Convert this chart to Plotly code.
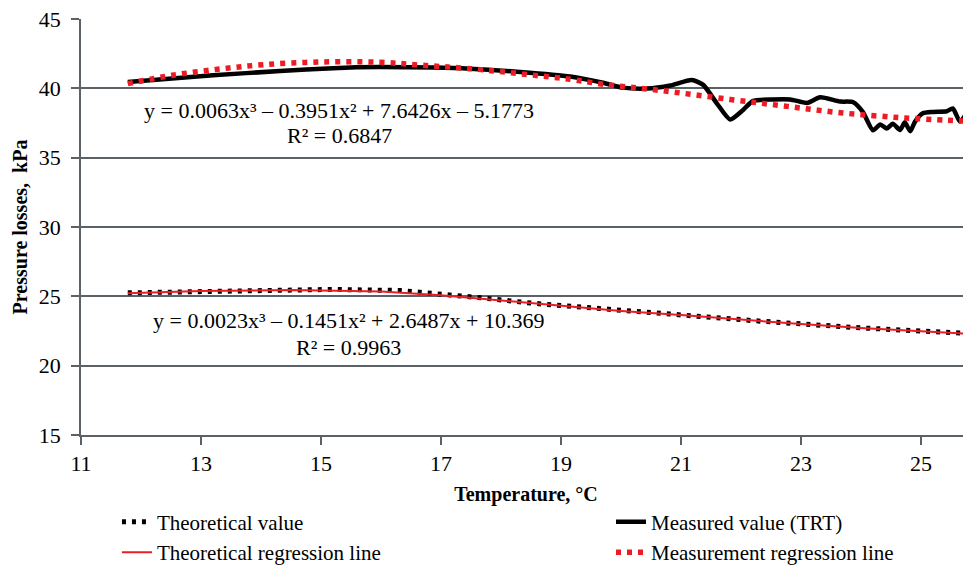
import plotly.graph_objects as go

# Measured value (TRT)
meas_x = [11.78, 13.20, 14.32, 15.20, 15.98, 16.87, 17.48, 18.32, 19.15, 19.70, 20.03, 20.43,
          20.82, 21.18, 21.37, 21.60, 21.82, 22.03, 22.20, 22.53, 22.82, 23.10, 23.32, 23.65,
          23.87, 24.03, 24.20, 24.32, 24.43, 24.53, 24.65, 24.73, 24.82, 24.90, 25.03, 25.20,
          25.43, 25.53, 25.65, 25.77]
meas_y = [40.45, 40.94, 41.25, 41.45, 41.53, 41.50, 41.42, 41.18, 40.85, 40.40, 40.05, 39.98,
          40.20, 40.60, 40.25, 38.90, 37.75, 38.42, 39.10, 39.20, 39.20, 38.95, 39.35, 39.05,
          39.00, 38.30, 36.97, 37.40, 37.10, 37.45, 37.00, 37.55, 36.90, 37.60, 38.20, 38.30,
          38.35, 38.55, 37.60, 38.30]

# Measurement regression line
mreg_x = [11.78, 12.52, 13.27, 14.03, 14.98, 15.98, 16.70, 17.48, 18.43, 19.15, 19.70, 20.65,
          21.82, 22.77, 23.70, 24.65, 25.43, 25.77]
mreg_y = [40.34, 40.94, 41.37, 41.70, 41.90, 41.88, 41.66, 41.42, 41.00, 40.65, 40.30, 39.85,
          39.20, 38.70, 38.22, 37.89, 37.70, 37.64]

# Theoretical value
theo_x = [11.78, 13.53, 15.20, 16.32, 16.93, 17.70, 18.53, 19.32, 20.82, 22.32, 23.98, 25.58, 25.77]
theo_y = [25.25, 25.40, 25.50, 25.42, 25.20, 24.88, 24.50, 24.20, 23.72, 23.21, 22.73, 22.37, 22.32]

# Theoretical regression line
treg_x = [11.78, 13.0, 14.5, 16.0, 17.0, 18.0, 19.0, 20.0, 21.0, 22.0, 23.0, 24.0, 25.0, 25.77]
treg_y = [25.22, 25.38, 25.45, 25.35, 25.08, 24.70, 24.30, 23.95, 23.65, 23.32, 23.00, 22.72, 22.50, 22.30]

x_ticks = [11, 13, 15, 17, 19, 21, 23, 25]
y_ticks = [15, 20, 25, 30, 35, 40, 45]

eq_meas = "y = 0.0063x³ – 0.3951x² + 7.6426x – 5.1773"
r2_meas = "R² = 0.6847"
eq_theo = "y = 0.0023x³ – 0.1451x² + 2.6487x + 10.369"
r2_theo = "R² = 0.9963"

FONT = "Liberation Serif"
RED = "rgb(237,28,36)"
GRID = "rgb(90,98,104)"

fig = go.Figure()
fig.add_trace(go.Scatter(x=theo_x, y=theo_y, mode="lines", name="Theoretical value",
                         line=dict(color="black", width=5, dash="4px,6px"), legend="legend"))
fig.add_trace(go.Scatter(x=treg_x, y=treg_y, mode="lines", name="Theoretical regression line",
                         line=dict(color=RED, width=2), legend="legend"))
fig.add_trace(go.Scatter(x=meas_x, y=meas_y, mode="lines", name="Measured value (TRT)",
                         line=dict(color="black", width=4.5, shape="spline", smoothing=0.6),
                         legend="legend2"))
fig.add_trace(go.Scatter(x=mreg_x, y=mreg_y, mode="lines", name="Measurement regression line",
                         line=dict(color=RED, width=5.5, dash="5px,6px", shape="spline"),
                         legend="legend2"))

ann = dict(showarrow=False, font=dict(family=FONT, size=22, color="black"),
           xref="x", yref="y", xanchor="center", yanchor="middle")
fig.add_annotation(x=15.3, y=38.41, text=eq_meas, **ann)
fig.add_annotation(x=15.3, y=36.61, text=r2_meas, **ann)
fig.add_annotation(x=15.45, y=23.29, text=eq_theo, **ann)
fig.add_annotation(x=15.45, y=21.34, text=r2_theo, **ann)

legend_common = dict(orientation="v", xref="paper", yref="paper", xanchor="left", yanchor="top",
                     font=dict(family=FONT, size=21, color="black"), bgcolor="rgba(0,0,0,0)",
                     tracegroupgap=0, itemwidth=30)
fig.update_layout(
    width=971, height=580,
    margin=dict(l=73, r=8, t=11, b=153, autoexpand=False),
    plot_bgcolor="white", paper_bgcolor="white",
    font=dict(family=FONT, size=22, color="black"),
    legend=dict(x=0.0404, y=-0.1603, **legend_common),
    legend2=dict(x=0.5955, y=-0.1603, **legend_common),
    xaxis=dict(range=[11, 25.833], tickvals=x_ticks, showgrid=False, zeroline=False,
               automargin=False,
               showline=True, linecolor=GRID, linewidth=1.5, ticks="outside", ticklen=8,
               tickcolor=GRID, tickwidth=1.5, ticklabeloverflow="allow",
               tickfont=dict(family=FONT, size=22, color="black"),
               title=dict(text="<b>Temperature, °C</b>", font=dict(family=FONT, size=20, color="black"),
                          standoff=12)),
    yaxis=dict(range=[15, 45.0001], tickvals=y_ticks, showgrid=True, gridcolor=GRID, gridwidth=1.5,
               automargin=False,
               zeroline=False, showline=True, linecolor=GRID, linewidth=1.5, ticks="outside",
               ticklen=8, tickcolor=GRID, tickwidth=1.5, ticklabelstandoff=6,
               ticklabeloverflow="allow",
               tickfont=dict(family=FONT, size=22, color="black"),
               title=dict(text="<b>Pressure losses,  kPa</b>", font=dict(family=FONT, size=20, color="black"),
                          standoff=6)),
)

fig.write_html("out.html")
